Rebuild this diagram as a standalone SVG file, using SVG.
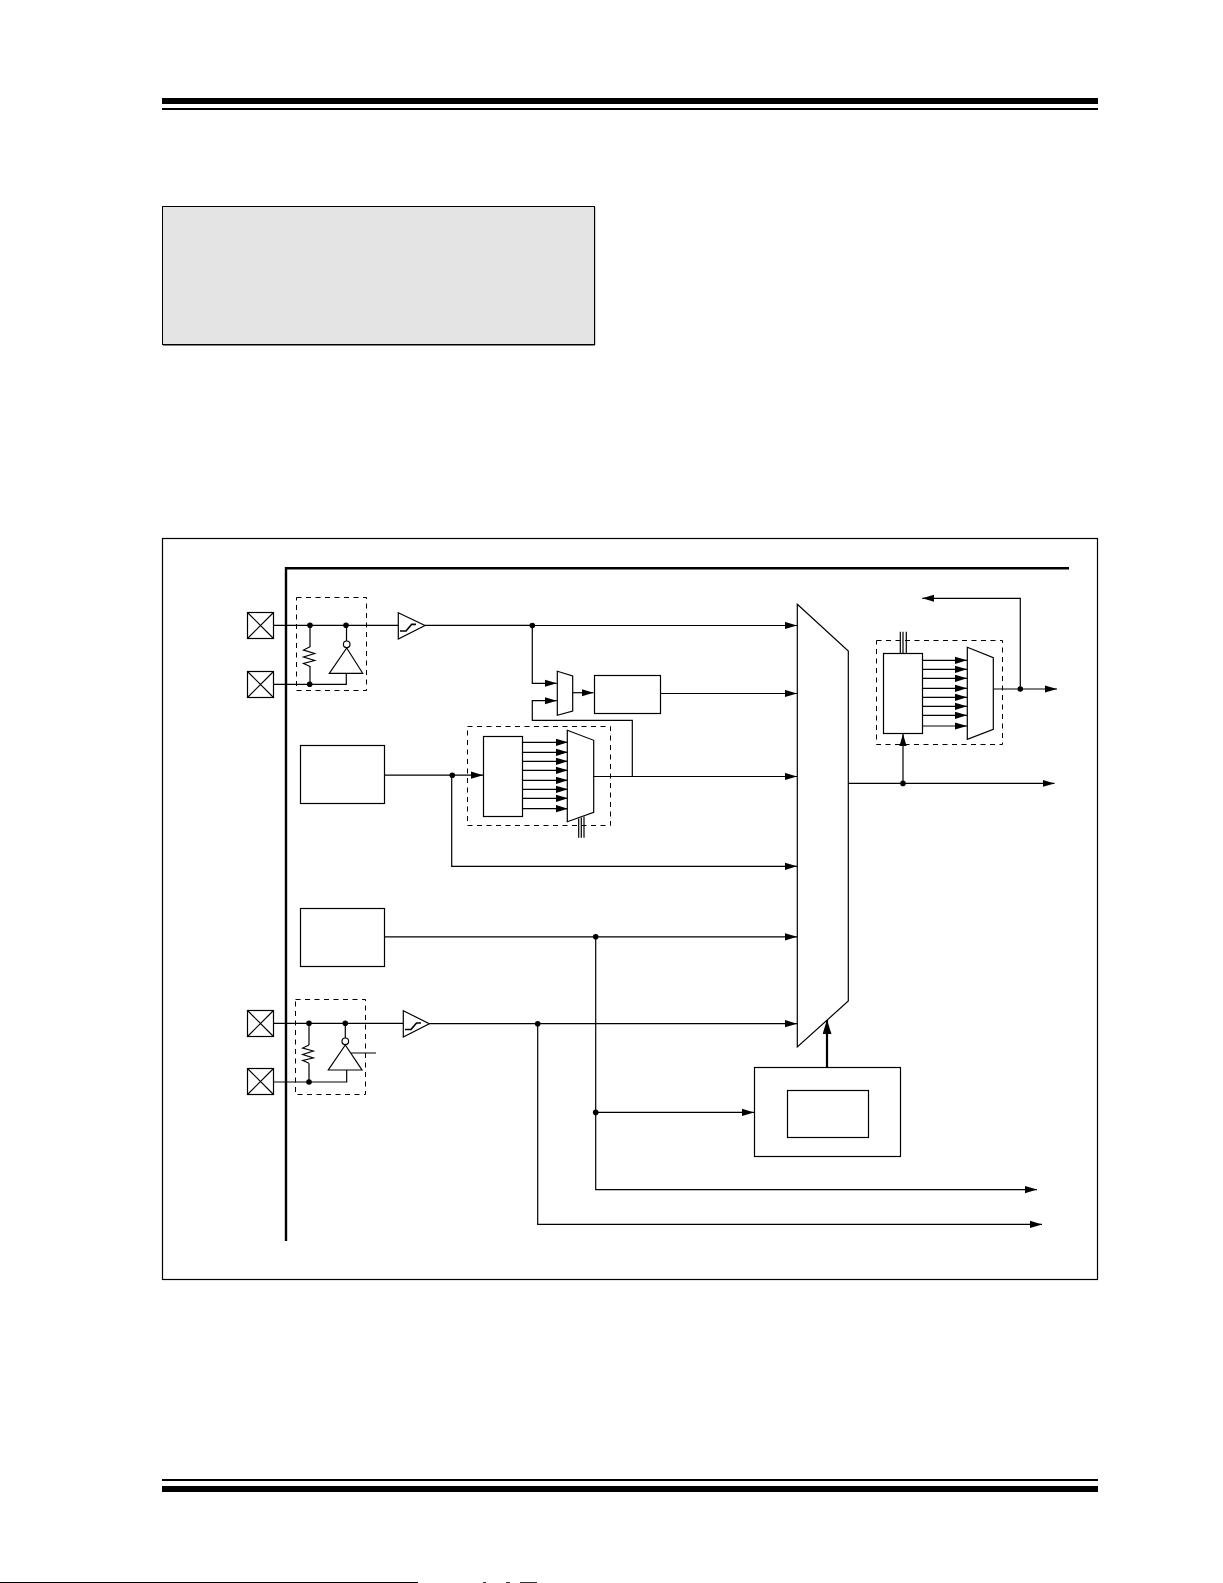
<svg xmlns="http://www.w3.org/2000/svg" width="1223" height="1583" viewBox="0 0 1223 1583">
<defs>
<marker id="arr" markerUnits="userSpaceOnUse" markerWidth="13" markerHeight="8" refX="12" refY="4" orient="auto"><path d="M0,0.4L12,4L0,7.6Z" fill="#000"/></marker>
<marker id="arrT" markerUnits="userSpaceOnUse" markerWidth="15" markerHeight="9" refX="14" refY="4.5" orient="auto"><path d="M0,0L14,4.5L0,9Z" fill="#000"/></marker>
</defs>
<style>
.l{fill:none;stroke:#000;stroke-width:1.2}
.b{fill:#fff;stroke:#000;stroke-width:1.2}
.d{fill:none;stroke:#000;stroke-width:1;stroke-dasharray:5 4.5}
.a{fill:none;stroke:#000;stroke-width:1.2;marker-end:url(#arr)}
.s{fill:none;stroke:#000;stroke-width:1.7}
.j{fill:#000}
</style>
<rect width="1223" height="1583" fill="#fff"/>
<g id="page">
<rect x="162" y="98" width="936" height="6" fill="#000"/>
<rect x="162" y="108" width="936" height="2" fill="#000"/>
<rect x="162" y="1479" width="936" height="2" fill="#000"/>
<rect x="162" y="1486" width="936" height="6" fill="#000"/>
<rect x="0" y="1582" width="418" height="1" fill="#000"/>
<rect x="483" y="1582" width="3" height="1" fill="#333"/>
<rect x="506" y="1582" width="4" height="1" fill="#333"/>
<rect x="520" y="1582" width="17" height="1" fill="#333"/>
<rect x="162.5" y="206.5" width="432" height="138" fill="#e4e4e4" stroke="#000" stroke-width="1"/>
<path d="M594.7,207V345H163" fill="none" stroke="#000" stroke-width="1"/>
<rect x="162.5" y="538.5" width="935" height="741" fill="#fff" stroke="#000" stroke-width="1.2"/>
<path d="M1069,568.3H286V1241" fill="none" stroke="#000" stroke-width="2.4"/>
</g>
<g id="connectors">
<path class="l" d="M273.7,625.3H398.3M425,625.3H532.3M273.7,684.3H346.3V673.3M310,625.3V647M310,666V684.3M346.5,625.3V641"/>
<path class="a" d="M532.3,625.5H797"/>
<path class="a" d="M532.3,625.5V683.3H556.7"/>
<path class="a" d="M632.3,776.3V720.3H532.3V700.7H556.7"/>
<path class="a" d="M572.7,692.7H593.5"/>
<path class="a" d="M660.3,693.5H797"/>
<path class="a" d="M593.7,776.5H797"/>
<path class="a" d="M384.3,775.2H483"/>
<path class="a" d="M451.7,775.2V866.3H797"/>
<path class="a" d="M384.3,936.8H797"/>
<path class="a" d="M595.7,936.8V1189.6H1037"/>
<path class="a" d="M595.7,1112.4H754"/>
<path class="l" d="M273.7,1023.3H403.3M273.7,1082H346.7V1070M309,1023.3V1045M309,1063.3V1082M345.3,1023.3V1038M350.7,1053H376"/>
<path class="a" d="M429.3,1023.7H797"/>
<path class="a" d="M537.7,1023.7V1224.4H1042"/>
<path class="a" d="M848.3,783.4H1054.5"/>
<path class="a" d="M903,783.4V734"/>
<path class="a" d="M993.3,689H1057"/>
<path class="a" d="M1020.3,689V598.3H922.3"/>
<path d="M827,1067.3V1020" fill="none" stroke="#000" stroke-width="2.2" marker-end="url(#arrT)"/>
<g id="bus-in">
<path class="a" d="M522.3,742.3H568"/><path class="a" d="M522.3,752.3H568"/><path class="a" d="M522.3,761.3H568"/><path class="a" d="M522.3,770.3H568"/><path class="a" d="M522.3,780.3H568"/><path class="a" d="M522.3,789.3H568"/><path class="a" d="M522.3,798.3H568"/><path class="a" d="M522.3,808.7H568"/>
</g>
<g id="bus-out">
<path class="a" d="M922.3,660.3H967"/><path class="a" d="M922.3,669.3H967"/><path class="a" d="M922.3,678.3H967"/><path class="a" d="M922.3,688.3H967"/><path class="a" d="M922.3,697.3H967"/><path class="a" d="M922.3,706.3H967"/><path class="a" d="M922.3,715.3H967"/><path class="a" d="M922.3,726H967"/>
</g>
<path class="l" d="M578.7,818.5V837.7M581.3,817.5V837.7M584,816.5V837.7M900.3,631.7V654.5M903,631.7V654.5M906.3,631.7V654.5"/>
</g>
<g id="pad1"><rect class="b" x="247.5" y="612.5" width="26" height="26"/><path class="l" d="M247.5,612.5l26,26M273.5,612.5l-26,26"/></g>
<g id="pad2"><rect class="b" x="247.5" y="671.5" width="26" height="26"/><path class="l" d="M247.5,671.5l26,26M273.5,671.5l-26,26"/></g>
<g id="pad3"><rect class="b" x="247.5" y="1010.5" width="26" height="26"/><path class="l" d="M247.5,1010.5l26,26M273.5,1010.5l-26,26"/></g>
<g id="pad4"><rect class="b" x="247.5" y="1068.5" width="26" height="26"/><path class="l" d="M247.5,1068.5l26,26M273.5,1068.5l-26,26"/></g>
<g id="osc-top">
<rect class="d" x="296.5" y="597.5" width="70" height="93"/>
<path class="l" d="M310,646.7L303.5,650L314.7,653.5L303.5,657L314.7,660.5L303.5,663.5L310,666.5"/>
<path class="b" d="M346.7,648L362.7,673.3H329.3Z"/><circle class="b" cx="346.7" cy="644.3" r="3.3"/>
<circle class="j" cx="310" cy="625.3" r="2.8"/><circle class="j" cx="346" cy="625.3" r="2.8"/><circle class="j" cx="309.7" cy="684.3" r="2.8"/>
</g>
<g id="schmitt-top"><path class="b" d="M398.3,612.7L425,625.5L398.3,639Z"/><path class="s" d="M400,631H406L411.7,624.3H416"/></g>
<g id="osc-bottom">
<rect class="d" x="295.5" y="999.5" width="70" height="95"/>
<path class="l" d="M309,1045L302.7,1048L313.3,1051L302.7,1054.5L313.3,1058L302.7,1060.5L309,1063.3"/>
<path class="b" d="M345.3,1045L362,1070H328.3Z"/><circle class="b" cx="345.3" cy="1041.3" r="3.3"/>
<circle class="j" cx="309" cy="1023.3" r="2.8"/><circle class="j" cx="345.3" cy="1023.3" r="2.8"/><circle class="j" cx="309" cy="1082" r="2.8"/>
</g>
<g id="schmitt-bottom"><path class="b" d="M403.3,1010.7L429.3,1023.7L403.3,1037Z"/><path class="s" d="M405,1029.5H411L416.5,1023H421"/></g>
<g id="small-mux"><path class="b" d="M557.3,671.3L572.7,676V711L557.3,715.3Z"/></g>
<g id="timer-box"><rect class="b" x="594.5" y="675.5" width="66" height="38"/></g>
<g id="divider-left">
<rect class="d" x="467.5" y="726.5" width="143" height="99"/>
<rect class="b" x="483.5" y="736.5" width="39" height="80"/>
<path class="b" d="M567.3,730.3L593.7,740.3V812.3L567.3,821.7Z"/>
</g>
<g id="source-a"><rect class="b" x="300.5" y="745.5" width="84" height="58"/></g>
<g id="source-b"><rect class="b" x="300.5" y="908.5" width="84" height="58"/></g>
<g id="main-mux"><path class="b" d="M797.3,604.3L848.3,651V1001L797.3,1047Z"/></g>
<g id="divider-right">
<rect class="d" x="876.5" y="640.5" width="126" height="104"/>
<rect class="b" x="883.5" y="653.5" width="39" height="80"/>
<path class="b" d="M967.3,647.3L993.3,657.7V729.3L967.3,739.3Z"/>
</g>
<g id="select-box"><rect class="b" x="754.5" y="1067.5" width="146" height="89"/><rect class="b" x="787.5" y="1090.5" width="81" height="47"/></g>
<g id="junctions">
<circle class="j" cx="532.3" cy="625.5" r="2.8"/><circle class="j" cx="452.3" cy="775.2" r="2.8"/><circle class="j" cx="595.7" cy="936.8" r="2.8"/><circle class="j" cx="537.7" cy="1023.7" r="2.8"/><circle class="j" cx="595.7" cy="1112.4" r="2.8"/><circle class="j" cx="1020.3" cy="689" r="2.8"/><circle class="j" cx="903" cy="783.4" r="2.8"/>
</g>
</svg>
